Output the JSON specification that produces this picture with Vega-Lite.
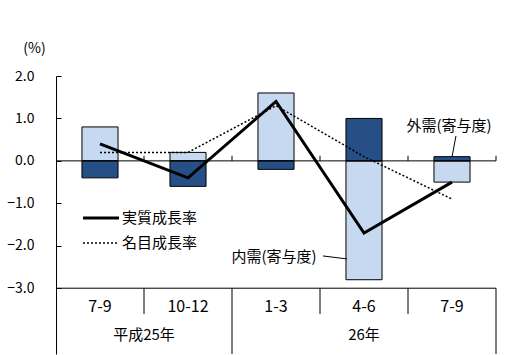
{
  "$schema": "https://vega.github.io/schema/vega-lite/v6.json",
  "width": 440,
  "height": 278,
  "autosize": "none",
  "padding": {"left": 56, "top": 76, "right": 9, "bottom": 1},
  "background": "white",
  "config": {
    "view": {"stroke": null},
    "text": {"font": "Noto Sans CJK JP", "fontSize": 15, "color": "black"}
  },
  "datasets": {
    "d": [
      {"p": "H25 7-9", "q": "7-9", "dom": 0.8, "ext": -0.4, "real": 0.4, "nom": 0.2},
      {"p": "H25 10-12", "q": "10-12", "dom": 0.2, "ext": -0.6, "real": -0.4, "nom": 0.2},
      {"p": "H26 1-3", "q": "1-3", "dom": 1.6, "ext": -0.2, "real": 1.4, "nom": 1.3},
      {"p": "H26 4-6", "q": "4-6", "dom": -2.8, "ext": 1.0, "real": -1.7, "nom": 0.1},
      {"p": "H26 7-9", "q": "7-9", "dom": -0.5, "ext": 0.1, "real": -0.5, "nom": -0.9}
    ],
    "vrules": [
      {"x": 1, "y": -3, "y2": -3.61},
      {"x": 2, "y": -3, "y2": -4.55},
      {"x": 3, "y": -3, "y2": -3.61},
      {"x": 4, "y": -3, "y2": -3.61},
      {"x": 5, "y": -3, "y2": -4.55},
      {"x": 1, "y": 0, "y2": 0.12},
      {"x": 2, "y": 0, "y2": 0.12},
      {"x": 3, "y": 0, "y2": 0.12},
      {"x": 4, "y": 0, "y2": 0.12},
      {"x": 5, "y": 0, "y2": 0.12}
    ],
    "hrules": [
      {"x": 0, "x2": 5, "y": 0},
      {"x": 0, "x2": 5, "y": -3}
    ],
    "ctext": [
      {"x": 1, "y": -4.1, "t": "平成25年"},
      {"x": 3.5, "y": -4.1, "t": "26年"},
      {"x": 2.477, "y": -2.264, "t": "内需(寄与度)"},
      {"x": 4.466, "y": 0.82, "t": "外需(寄与度)"}
    ],
    "legtext": [
      {"x": 0.75, "y": -1.345, "t": "実質成長率"},
      {"x": 0.75, "y": -1.934, "t": "名目成長率"}
    ],
    "leg": [
      {"k": "real", "x": 0.307, "x2": 0.716, "y": -1.345},
      {"k": "nom", "x": 0.307, "x2": 0.716, "y": -1.934}
    ],
    "leaders": [
      {"x": 3.034, "x2": 3.307, "y": -2.24, "y2": -2.31},
      {"x": 4.545, "x2": 4.5, "y": 0.587, "y2": 0.092}
    ]
  },
  "layer": [
    {
      "data": {"name": "d"},
      "encoding": {
        "x": {"field": "p", "type": "nominal", "sort": null, "scale": {"paddingInner": 0, "paddingOuter": 0}, "axis": null}
      },
      "layer": [
        {
          "mark": {"type": "bar", "fill": "#c6d9f1", "stroke": "black", "strokeWidth": 1, "width": {"band": 0.41}},
          "encoding": {
            "y": {
              "field": "dom", "type": "quantitative",
              "scale": {"domain": [-4.55, 2.0], "nice": false, "zero": false},
              "axis": {
                "values": [-3, -2, -1, 0, 1, 2], "format": ".1f", "grid": false,
                "tickSize": -5, "tickColor": "black", "domainColor": "black",
                "labelColor": "black", "labelFont": "Noto Sans CJK JP", "labelFontSize": 14, "labelPadding": 27,
                "title": "(%)", "titleAngle": 0, "titleX": -22, "titleY": -28, "titleAlign": "center",
                "titleBaseline": "middle", "titleFontWeight": "normal", "titleFontSize": 14,
                "titleColor": "black", "titleFont": "Noto Sans CJK JP"
              }
            }
          }
        },
        {
          "mark": {"type": "bar", "fill": "#254f85", "stroke": "black", "strokeWidth": 1, "width": {"band": 0.41}},
          "encoding": {"y": {"field": "ext", "type": "quantitative", "axis": null}}
        },
        {
          "mark": {"type": "line", "color": "black", "strokeWidth": 1.5, "strokeDash": [2, 2]},
          "encoding": {"y": {"field": "nom", "type": "quantitative", "axis": null}}
        },
        {
          "mark": {"type": "line", "color": "black", "strokeWidth": 3},
          "encoding": {"y": {"field": "real", "type": "quantitative", "axis": null}}
        },
        {
          "mark": {"type": "text", "align": "center", "baseline": "middle", "fontSize": 16},
          "encoding": {"y": {"datum": -3.44, "type": "quantitative", "axis": null}, "text": {"field": "q"}}
        }
      ],
      "resolve": {"axis": {"y": "independent"}}
    },
    {
      "layer": [
        {
          "data": {"name": "vrules"},
          "mark": {"type": "rule", "color": "black", "strokeWidth": 1},
          "encoding": {
            "x": {"field": "x", "type": "quantitative", "scale": {"domain": [0, 5], "nice": false, "zero": false}, "axis": null},
            "y": {"field": "y", "type": "quantitative", "axis": null},
            "y2": {"field": "y2"}
          }
        },
        {
          "data": {"name": "hrules"},
          "mark": {"type": "rule", "color": "black", "strokeWidth": 1},
          "encoding": {
            "x": {"field": "x", "type": "quantitative", "axis": null},
            "x2": {"field": "x2"},
            "y": {"field": "y", "type": "quantitative", "axis": null}
          }
        },
        {
          "data": {"name": "leaders"},
          "mark": {"type": "rule", "color": "black", "strokeWidth": 1},
          "encoding": {
            "x": {"field": "x", "type": "quantitative", "axis": null},
            "x2": {"field": "x2"},
            "y": {"field": "y", "type": "quantitative", "axis": null},
            "y2": {"field": "y2"}
          }
        },
        {
          "data": {"name": "leg"},
          "transform": [{"filter": "datum.k === 'real'"}],
          "mark": {"type": "rule", "color": "black", "strokeWidth": 3},
          "encoding": {
            "x": {"field": "x", "type": "quantitative", "axis": null},
            "x2": {"field": "x2"},
            "y": {"field": "y", "type": "quantitative", "axis": null}
          }
        },
        {
          "data": {"name": "leg"},
          "transform": [{"filter": "datum.k === 'nom'"}],
          "mark": {"type": "rule", "color": "black", "strokeWidth": 1.5, "strokeDash": [2, 2]},
          "encoding": {
            "x": {"field": "x", "type": "quantitative", "axis": null},
            "x2": {"field": "x2"},
            "y": {"field": "y", "type": "quantitative", "axis": null}
          }
        },
        {
          "data": {"name": "ctext"},
          "mark": {"type": "text", "align": "center", "baseline": "middle"},
          "encoding": {
            "x": {"field": "x", "type": "quantitative", "axis": null},
            "y": {"field": "y", "type": "quantitative", "axis": null},
            "text": {"field": "t"}
          }
        },
        {
          "data": {"name": "legtext"},
          "mark": {"type": "text", "align": "left", "baseline": "middle"},
          "encoding": {
            "x": {"field": "x", "type": "quantitative", "axis": null},
            "y": {"field": "y", "type": "quantitative", "axis": null},
            "text": {"field": "t"}
          }
        }
      ],
      "resolve": {"axis": {"y": "independent"}}
    }
  ],
  "resolve": {"scale": {"x": "independent"}, "axis": {"y": "independent"}}
}
